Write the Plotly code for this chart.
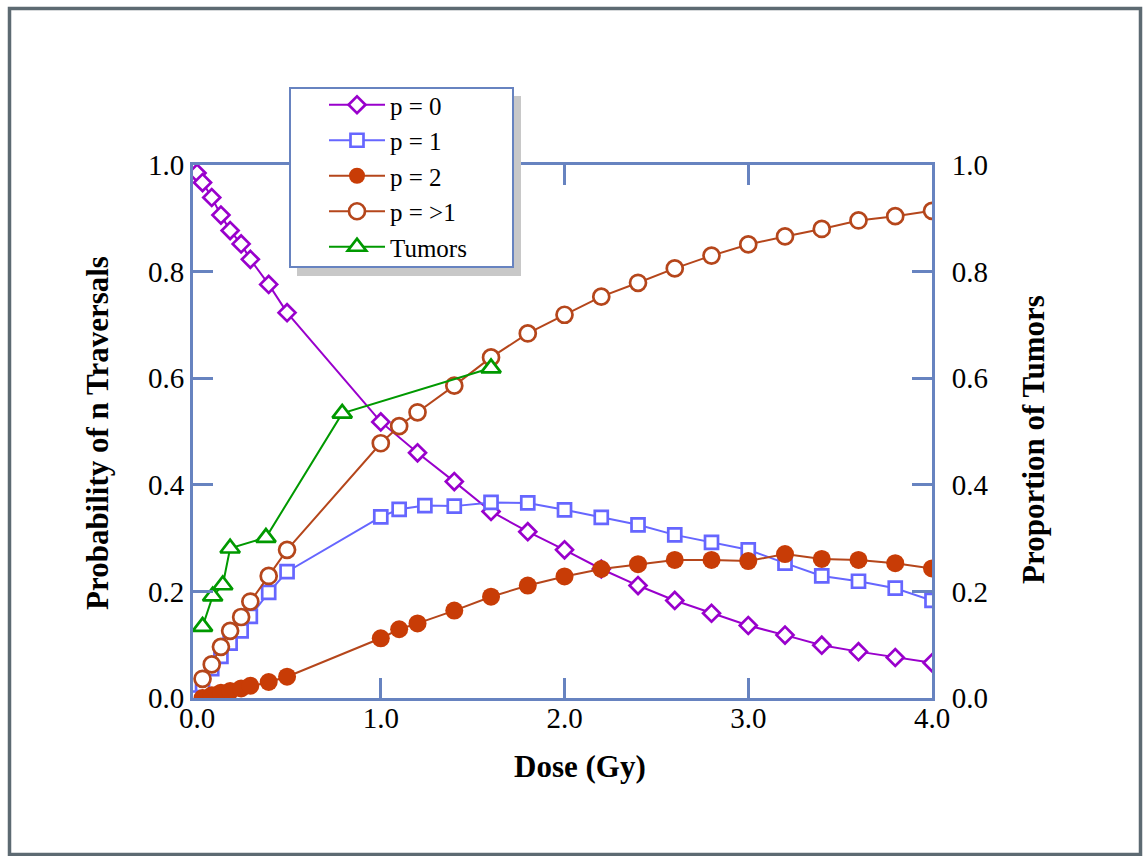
import plotly.graph_objects as go

# ---------------- data ----------------
dose_p0 = [0.0, 0.03, 0.08, 0.13, 0.18, 0.24, 0.29, 0.39, 0.49,
           1.0, 1.2, 1.4, 1.6, 1.8, 2.0, 2.2, 2.4, 2.6, 2.8, 3.0, 3.2, 3.4, 3.6, 3.8, 4.0]
p0 = [0.985, 0.967, 0.939, 0.906, 0.877, 0.852, 0.823, 0.776, 0.723,
      0.518, 0.460, 0.406, 0.350, 0.312, 0.278, 0.242, 0.211, 0.183, 0.159, 0.136,
      0.118, 0.099, 0.087, 0.076, 0.066]

dose_p1 = [0.0, 0.03, 0.08, 0.13, 0.18, 0.24, 0.29, 0.39, 0.49,
           1.0, 1.1, 1.24, 1.4, 1.6, 1.8, 2.0, 2.2, 2.4, 2.6, 2.8, 3.0, 3.2, 3.4, 3.6, 3.8, 4.0]
p1 = [0.0, 0.025, 0.055, 0.078, 0.103, 0.126, 0.153, 0.198, 0.237,
      0.340, 0.354, 0.361, 0.360, 0.367, 0.366, 0.353, 0.339, 0.325, 0.306, 0.292,
      0.278, 0.253, 0.229, 0.219, 0.206, 0.183]

dose_p2 = [0.03, 0.08, 0.13, 0.18, 0.24, 0.29, 0.39, 0.49,
           1.0, 1.1, 1.2, 1.4, 1.6, 1.8, 2.0, 2.2, 2.4, 2.6, 2.8, 3.0, 3.2, 3.4, 3.6, 3.8, 4.0]
p2 = [0.0, 0.005, 0.010, 0.013, 0.018, 0.023, 0.030, 0.040,
      0.112, 0.129, 0.140, 0.164, 0.190, 0.211, 0.228, 0.242, 0.251, 0.259, 0.259,
      0.257, 0.270, 0.261, 0.259, 0.253, 0.243]

dose_pgt1 = [0.03, 0.08, 0.13, 0.18, 0.24, 0.29, 0.39, 0.49,
             1.0, 1.1, 1.2, 1.4, 1.6, 1.8, 2.0, 2.2, 2.4, 2.6, 2.8, 3.0, 3.2, 3.4, 3.6, 3.8, 4.0]
pgt1 = [0.036, 0.063, 0.096, 0.126, 0.152, 0.181, 0.229, 0.278,
        0.478, 0.510, 0.536, 0.586, 0.639, 0.684, 0.719, 0.753, 0.779, 0.806, 0.830,
        0.851, 0.866, 0.880, 0.896, 0.904, 0.914]

dose_tumors = [0.03, 0.085, 0.14, 0.18, 0.375, 0.79, 1.6]
tumors = [0.134, 0.191, 0.212, 0.281, 0.301, 0.534, 0.619]

x_tickvals = [0, 1, 2, 3, 4]
x_ticktext = ["0.0", "1.0", "2.0", "3.0", "4.0"]
x_inner_ticks = [1, 2, 3]
y_tickvals = [0.0, 0.2, 0.4, 0.6, 0.8, 1.0]
y_ticktext = ["0.0", "0.2", "0.4", "0.6", "0.8", "1.0"]

# ---------------- styling ----------------
W, H = 1144, 856
L, R, T, B = 193, 932, 165, 698   # plot area in pixels
AX = "#6783C0"
SERIF = "Liberation Serif, Times New Roman, serif"
FS = 29
TFS = 31


def px(xp):
    return (xp - L) / (R - L)


def py(yp):
    return (B - yp) / (B - T)


fig = go.Figure()

fig.add_trace(go.Scatter(
    x=dose_p0, y=p0, name="p = 0", mode="lines+markers",
    line=dict(color="#9900CC", width=2),
    marker=dict(symbol="diamond", size=13, color="white",
                line=dict(color="#9900CC", width=2.7))))
fig.add_trace(go.Scatter(
    x=dose_p1, y=p1, name="p = 1", mode="lines+markers",
    line=dict(color="#6666FF", width=2),
    marker=dict(symbol="square", size=13, color="white",
                line=dict(color="#6666FF", width=2.7))))
fig.add_trace(go.Scatter(
    x=dose_p2, y=p2, name="p = 2", mode="lines+markers",
    line=dict(color="#B5461B", width=2),
    marker=dict(symbol="circle", size=18, color="#C83C06",
                line=dict(color="#C83C06", width=0))))
fig.add_trace(go.Scatter(
    x=dose_pgt1, y=pgt1, name="p = >1", mode="lines+markers",
    line=dict(color="#B5461B", width=2),
    marker=dict(symbol="circle", size=16, color="white",
                line=dict(color="#B5461B", width=2.7))))
fig.add_trace(go.Scatter(
    x=dose_tumors, y=tumors, name="Tumors", mode="lines+markers", yaxis="y2",
    line=dict(color="#009900", width=2),
    marker=dict(symbol="triangle-up", size=17, color="white",
                line=dict(color="#009900", width=2.7))))

axis_common = dict(
    showline=True, linecolor=AX, linewidth=3, showgrid=False, zeroline=False,
    tickfont=dict(family=SERIF, size=FS, color="black"),
)

fig.update_layout(
    width=W, height=H,
    margin=dict(l=L, r=W - R, t=T, b=H - B, pad=0),
    paper_bgcolor="white", plot_bgcolor="white",
    font=dict(family=SERIF, size=FS, color="black"),
    xaxis=dict(
        **axis_common, range=[-0.022, 4.0],
        mirror="ticks", ticks="", tickvals=x_tickvals, ticktext=x_ticktext,
        ticklabelstandoff=-8,
        minor=dict(tickvals=x_inner_ticks, ticks="inside", ticklen=20, tickwidth=3, tickcolor=AX),
    ),
    yaxis=dict(
        **axis_common, range=[0, 1], ticks="inside", ticklen=20, tickwidth=3, tickcolor=AX,
        tickvals=y_tickvals, ticktext=y_ticktext,
    ),
    yaxis2=dict(
        **axis_common, range=[0, 1], overlaying="y", side="right",
        ticks="inside", ticklen=20, tickwidth=3, tickcolor=AX,
        tickvals=y_tickvals, ticktext=y_ticktext, ticklabelstandoff=11,
    ),
    legend=dict(
        x=px(324), y=py(82), xanchor="left", yanchor="top",
        bgcolor="rgba(0,0,0,0)", borderwidth=0,
        font=dict(family=SERIF, size=25, color="black"),
        itemwidth=56, tracegroupgap=0,
    ),
    showlegend=True,
)

# axis titles
fig.add_annotation(text="<b>Dose (Gy)</b>", x=px(580), y=py(767), xref="paper", yref="paper",
                   xanchor="center", yanchor="middle",
                   showarrow=False, font=dict(family=SERIF, size=TFS, color="black"))
fig.add_annotation(text="<b>Probability of n Traversals</b>", x=px(97), y=py(433),
                   xref="paper", yref="paper", showarrow=False, textangle=-90,
                   xanchor="center", yanchor="middle",
                   font=dict(family=SERIF, size=TFS, color="black"))
fig.add_annotation(text="<b>Proportion of Tumors</b>", x=px(1033), y=py(440),
                   xref="paper", yref="paper", showarrow=False, textangle=-90,
                   xanchor="center", yanchor="middle",
                   font=dict(family=SERIF, size=TFS, color="black"))

# legend shadow and box
fig.add_shape(type="rect", xref="paper", yref="paper",
              x0=px(297), x1=px(521), y0=py(276), y1=py(96),
              fillcolor="#C8C8C8", line=dict(width=0), layer="above")
fig.add_shape(type="rect", xref="paper", yref="paper",
              x0=px(290), x1=px(513), y0=py(267), y1=py(88),
              fillcolor="white", line=dict(color=AX, width=2), layer="above")
# outer frame
fig.add_shape(type="rect", xref="paper", yref="paper",
              x0=px(9.5), x1=px(1140.5), y0=py(854.5), y1=py(8.5),
              fillcolor="rgba(0,0,0,0)", line=dict(color="#5D6A72", width=3.5), layer="above")

fig.write_html("out.html", config={"displayModeBar": False},
               post_script="document.body.style.margin='0';")
